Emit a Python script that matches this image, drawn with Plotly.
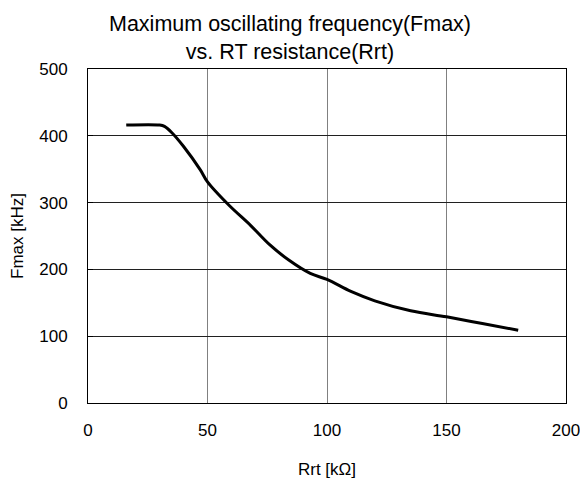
import plotly.graph_objects as go

rrt_kohm = [16, 30, 32, 35, 40, 47, 50, 59, 68, 76, 84, 93, 100, 110, 120, 135, 150, 165, 180]
fmax_khz = [416, 416, 414, 405, 384, 349, 331, 296, 266, 237, 214, 194, 185, 167, 153, 138, 129, 119, 109]

x_ticks = [0, 50, 100, 150, 200]
y_ticks = [0, 100, 200, 300, 400, 500]

fig = go.Figure()
fig.add_trace(go.Scatter(x=rrt_kohm, y=fmax_khz, mode="lines",
                         line=dict(color="black", width=3), line_shape="spline",
                         showlegend=False))

font = "Liberation Sans, Arial, sans-serif"
fig.update_layout(
    width=580, height=481,
    margin=dict(l=88, r=14, t=69, b=78, autoexpand=False),
    paper_bgcolor="white", plot_bgcolor="white",
    font=dict(family=font, color="black"),
    title=dict(text="Maximum oscillating frequency(Fmax)<br>vs. RT resistance(Rrt)",
               x=0.5, xanchor="center", xref="container", yref="container",
               y=0.936, yanchor="middle",
               font=dict(size=21.5, family=font, color="black")),
    xaxis=dict(range=[0, 200], tickvals=x_ticks, showgrid=True, gridcolor="#808080", gridwidth=1,
               showline=True, linecolor="black", linewidth=1, mirror=True, automargin=False,
               ticks="", ticklabelstandoff=12, tickfont=dict(size=17),
               ticklabeloverflow="allow", zeroline=False,
               title=dict(text="Rrt [kΩ]", font=dict(size=17), standoff=23)),
    yaxis=dict(range=[0, 500], tickvals=y_ticks, showgrid=True, gridcolor="#202020", gridwidth=1,
               showline=True, linecolor="black", linewidth=1, mirror=True, automargin=False,
               ticks="inside", ticklen=5, tickcolor="black", ticklabelstandoff=16,
               tickfont=dict(size=17), zeroline=False,
               title=dict(text="Fmax [kHz]", font=dict(size=17), standoff=11)),
)
fig.write_html("out.html", config={"displayModeBar": False},
               post_script="document.body.style.margin='0';document.body.style.overflow='hidden';")
